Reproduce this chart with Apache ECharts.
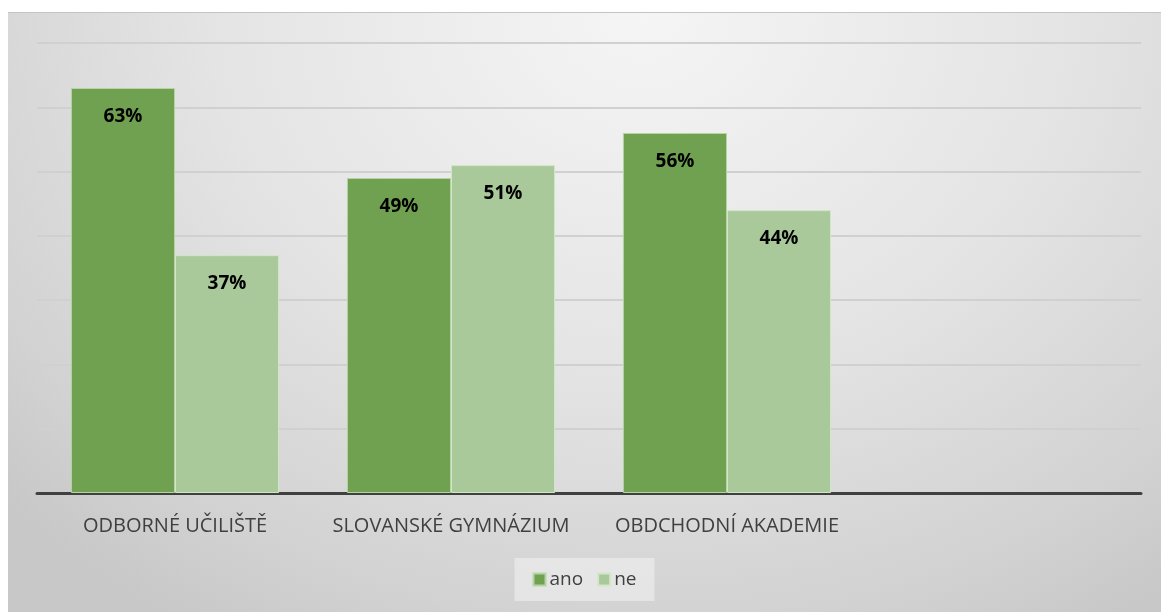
<!DOCTYPE html>
<html><head><meta charset="utf-8">
<script src="https://cdn.jsdelivr.net/npm/echarts@6/dist/echarts.min.js"></script>
<style>
html,body{margin:0;padding:0;background:#fff;}
#c{position:absolute;left:8px;top:12px;width:1153px;height:600px;border-top:1px solid #c4c4c4;box-sizing:border-box;
background:radial-gradient(ellipse 75% 120% at 55% 0%, #f5f5f5 0%, #e4e4e4 50%, #d2d2d2 85%, #c8c8c8 100%);}
</style></head>
<body><div id="c"></div>
<script>
const categories = ['ODBORNÉ UČILIŠTĚ', 'SLOVANSKÉ GYMNÁZIUM', 'OBDCHODNÍ AKADEMIE', ''];
const seriesNames = ['ano', 'ne'];
const anoValues = [63, 49, 56, null];
const neValues = [37, 51, 44, null];

const chart = echarts.init(document.getElementById('c'));
const labelCfg = {show:true, position:'insideTop', distance:19, formatter:'{c}%', color:'#000', fontWeight:'bold', fontSize:19, fontFamily:'Open Sans'};
chart.setOption({
  backgroundColor:'transparent',
  grid:{left:29, right:20, top:30, bottom:119},
  legend:{bottom:11, left:'center', icon:'rect', itemWidth:12, itemHeight:12, itemGap:14, padding:[12,18,12,18], backgroundColor:'rgba(240,240,240,0.6)',
    textStyle:{fontSize:19, color:'#404040', fontFamily:'Open Sans', padding:[0,0,0,-1]}, data:seriesNames},
  xAxis:{type:'category', data:categories, axisTick:{show:false},
    axisLine:{lineStyle:{color:'#404040', width:3}},
    axisLabel:{fontSize:20, color:'#404040', margin:23, fontFamily:'Open Sans', interval:0}},
  yAxis:{type:'value', min:0, max:70, interval:10, axisLabel:{show:false}, axisLine:{show:false}, axisTick:{show:false},
    splitLine:{lineStyle:{color:'#d0d0d0', width:2}}},
  series:[
    {name:'ano', type:'bar', data:anoValues, barGap:'0%', barCategoryGap:'24.6%',
      itemStyle:{color:'#70a150', borderColor:'#b5d3a4', borderWidth:1}, label:labelCfg},
    {name:'ne', type:'bar', data:neValues,
      itemStyle:{color:'#a9c99a', borderColor:'#d2e6c8', borderWidth:1}, label:labelCfg}
  ]
});
</script></body></html>
